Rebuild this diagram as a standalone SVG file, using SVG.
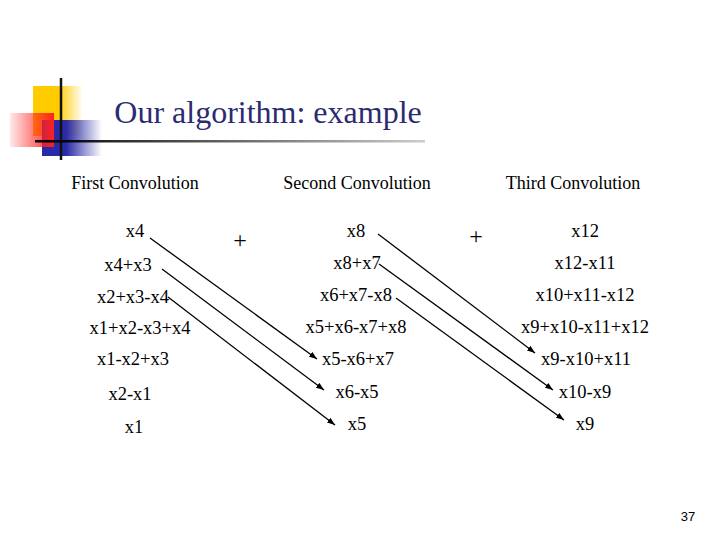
<svg xmlns="http://www.w3.org/2000/svg" width="720" height="540" viewBox="0 0 720 540">
<defs>
<linearGradient id="gy" x1="0" x2="1"><stop offset="0.5" stop-color="#ffcc00"/><stop offset="1" stop-color="#ffcc00" stop-opacity="0"/></linearGradient>
<linearGradient id="gb" x1="0" x2="1"><stop offset="0.4" stop-color="#2a2aa8"/><stop offset="1" stop-color="#2a2aa8" stop-opacity="0"/></linearGradient>
<linearGradient id="gr" x1="1" x2="0"><stop offset="0" stop-color="#ff2020"/><stop offset="1" stop-color="#ff2020" stop-opacity="0.1"/></linearGradient>
<linearGradient id="gl" x1="0" x2="1"><stop offset="0" stop-color="#000"/><stop offset="1" stop-color="#000" stop-opacity="0.2"/></linearGradient>
<marker id="ar" markerWidth="8" markerHeight="6" refX="8" refY="3" orient="auto" markerUnits="userSpaceOnUse"><path d="M0,0L8,3L0,6z" fill="#000"/></marker>
</defs>
<style>text{font-family:"Liberation Serif",serif;font-size:18.5px;fill:#000;text-anchor:middle}.h{font-size:18px}.c line{stroke:#000;stroke-width:1.3;marker-end:url(#ar)}</style>
<rect width="720" height="540" fill="#fff"/>
<g id="logo">
<rect x="33" y="86" width="50" height="50" fill="url(#gy)"/>
<rect x="42" y="120" width="60" height="36" fill="url(#gb)"/>
<rect x="10" y="113" width="44" height="34" fill="url(#gr)"/>
<line x1="61" y1="78" x2="61" y2="160" stroke="#111" stroke-width="2.5"/>
<rect x="35" y="140" width="390" height="2.5" fill="url(#gl)"/>
</g>
<text x="268" y="123" style="font-size:32px;fill:#2b2b70">Our algorithm: example</text>
<text class="h" x="135" y="189">First Convolution</text>
<text class="h" x="357" y="189">Second Convolution</text>
<text class="h" x="573" y="189">Third Convolution</text>
<text x="240" y="248" style="font-size:24px">+</text><text x="476" y="244" style="font-size:24px">+</text>
<g id="col1"><text x="135" y="237">x4</text><text x="128" y="271">x4+x3</text><text x="133" y="303">x2+x3-x4</text><text x="140" y="334">x1+x2-x3+x4</text><text x="133" y="365">x1-x2+x3</text><text x="130" y="400">x2-x1</text><text x="134" y="433">x1</text></g>
<g id="col2"><text x="356" y="237">x8</text><text x="357" y="269">x8+x7</text><text x="356" y="301">x6+x7-x8</text><text x="356" y="333">x5+x6-x7+x8</text><text x="358" y="365">x5-x6+x7</text><text x="357" y="398">x6-x5</text><text x="357" y="430">x5</text></g>
<g class="c" id="connectors">
<line x1="150" y1="238" x2="317" y2="359"/>
<line x1="162" y1="269" x2="324" y2="390"/>
<line x1="168" y1="297" x2="335" y2="425"/>
<line x1="378" y1="234" x2="535" y2="353"/>
<line x1="379" y1="264" x2="553" y2="390"/>
<line x1="396" y1="298" x2="564" y2="420"/>
</g>
<g id="col3"><text x="585" y="237">x12</text><text x="585" y="269">x12-x11</text><text x="585" y="301">x10+x11-x12</text><text x="585" y="333">x9+x10-x11+x12</text><text x="586" y="365">x9-x10+x11</text><text x="585" y="398">x10-x9</text><text x="585" y="430">x9</text></g>
<text x="688" y="521" style="font-family:'Liberation Sans',sans-serif;font-size:13px">37</text>
</svg>
